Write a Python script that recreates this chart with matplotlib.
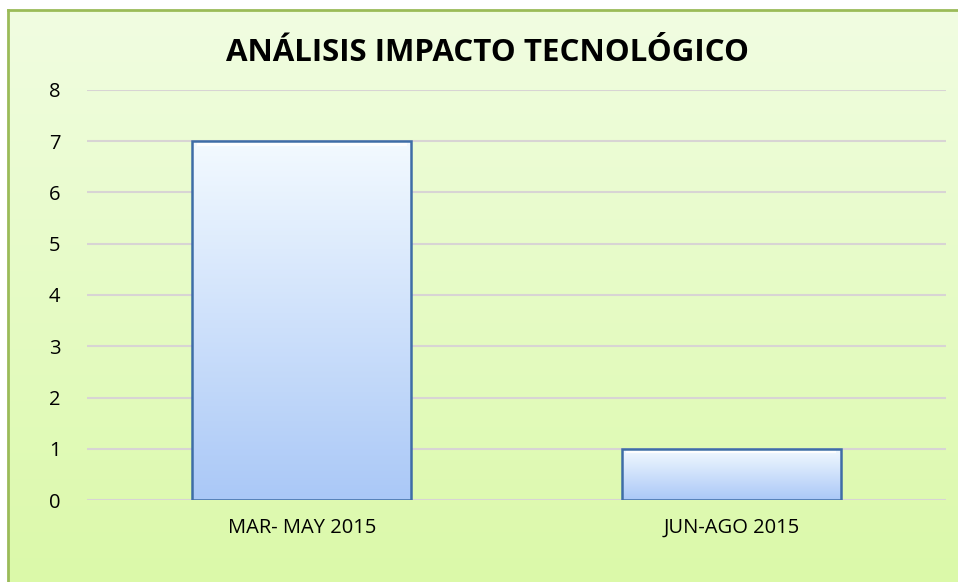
import numpy as np
import matplotlib.pyplot as plt
from matplotlib.lines import Line2D

periods = ['MAR- MAY 2015', 'JUN-AGO 2015']
counts = [7, 1]
y_ticks = [0, 1, 2, 3, 4, 5, 6, 7, 8]

plt.rcParams['font.family'] = ['Open Sans', 'DejaVu Sans']

W, H = 958, 582
fig = plt.figure(figsize=(W / 100, H / 100), dpi=100)
fig.patch.set_facecolor('white')


def vgrad(top, bottom, n=256):
    top = np.array(top) / 255
    bottom = np.array(bottom) / 255
    t = np.linspace(0, 1, n)[:, None, None]
    return top + (bottom - top) * t


# chart area: soft vertical gradient running past the right and bottom edges
bg = fig.add_axes([8 / W, -0.05, 1.05, (H - 10) / H + 0.05])
bg.imshow(vgrad((241, 253, 226), (218, 249, 166)), aspect='auto',
          extent=[0, 1, 0, 1], interpolation='bilinear')
bg.set_axis_off()

# green frame, only the left and top sides fall inside the figure
fx, fy = 8 / W, 1 - 10 / H
fig.add_artist(Line2D([fx, fx], [0, fy], color='#9bbb59', linewidth=2))
fig.add_artist(Line2D([fx, 1], [fy, fy], color='#9bbb59', linewidth=2))

ax = fig.add_axes([87 / W, 82 / H, 859 / W, 410 / H])
ax.set_facecolor('none')
x = np.arange(len(periods))
bars = ax.bar(x, counts, width=0.51, facecolor='none',
              edgecolor='#3e6da6', linewidth=1.8, zorder=3)

# light-to-blue fill for every bar, with a white highlight under the top edge
for bar in bars:
    x0, y0 = bar.get_x(), bar.get_y()
    x1, y1 = x0 + bar.get_width(), y0 + bar.get_height()
    im = ax.imshow(vgrad((243, 250, 255), (170, 200, 247)), aspect='auto',
                   extent=[x0, x1, y0, y1],
                   interpolation='bilinear', zorder=2)
    im.set_clip_path(bar)
    ax.plot([x0 + 0.01, x1 - 0.01], [y1 - 0.05, y1 - 0.05],
            color='white', linewidth=3, alpha=0.9, zorder=2.5,
            solid_capstyle='butt')

ax.set_xlim(-0.5, 1.5)
ax.set_ylim(0, 8)
ax.set_yticks(y_ticks)
ax.set_xticks(x)
ax.set_xticklabels(periods)
ax.yaxis.grid(True, color='#d8d4d4', linewidth=1.5)
ax.set_axisbelow(True)
for s in ax.spines.values():
    s.set_visible(False)
ax.tick_params(axis='both', length=0, labelsize=14.5, colors='black')
ax.tick_params(axis='y', pad=19)
ax.tick_params(axis='x', pad=13)

fig.text(487 / W, 1 - 53 / H, 'ANÁLISIS IMPACTO TECNOLÓGICO',
         ha='center', va='center', fontsize=22.5, fontweight='bold')

fig.savefig('out.png', dpi=100)
